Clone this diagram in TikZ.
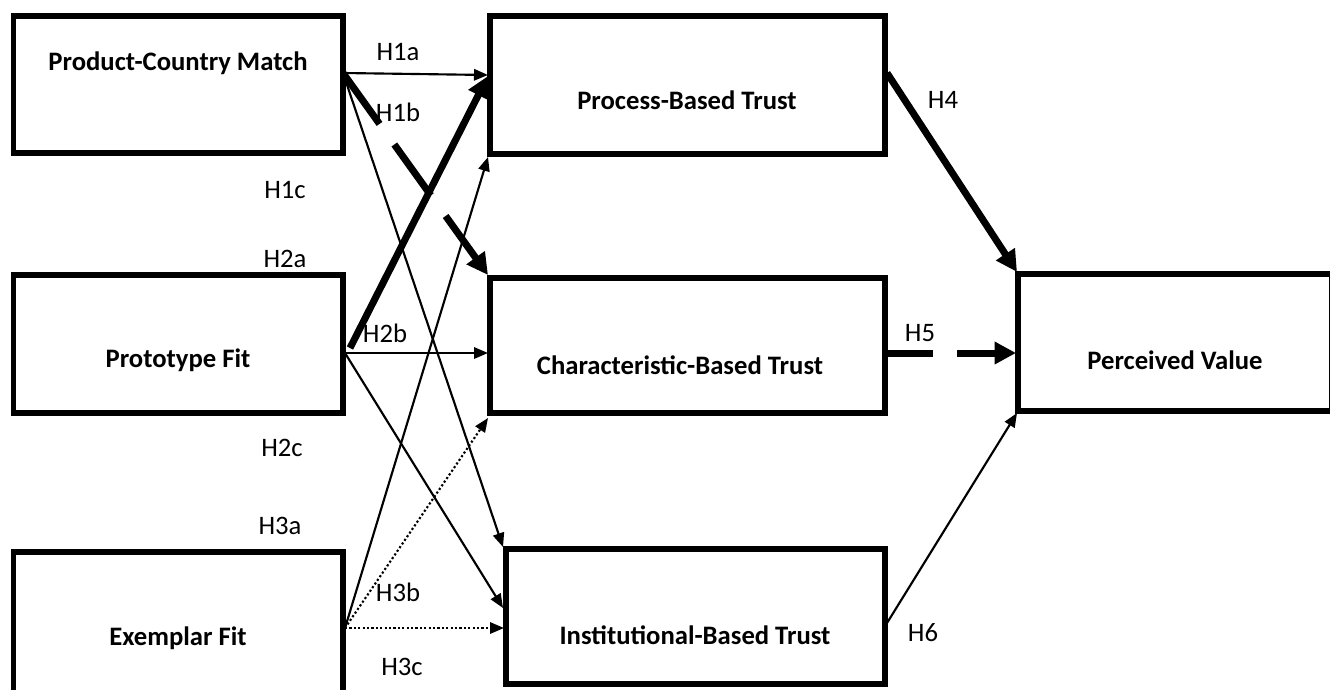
\documentclass[tikz,border=0pt]{standalone}
\usepackage{fontspec}
\setmainfont{Carlito}
\usetikzlibrary{arrows.meta,calc,fit}
\begin{document}
\begin{tikzpicture}[x=0.75pt,y=-0.75pt,
  box/.style={draw, line width=3.9pt, inner sep=0pt, outer sep=0pt, rectangle},
  boxtext/.style={font=\fontsize{20}{24}\selectfont\bfseries, inner sep=0pt},
  hlabel/.style={font=\fontsize{20}{24}\selectfont, inner sep=0pt},
  arrthin/.style={line width=1.6pt, -{Triangle[length=10.5pt,width=8.5pt]}},
  arrthick/.style={line width=5.25pt, -{Triangle[length=16pt,width=16pt]}},
  arrdot/.style={line width=1.6pt, dash pattern=on 1.6pt off 1.7pt, -{Triangle[length=10.5pt,width=8.5pt]}},
  ]
\useasboundingbox (0,0) rectangle (1330,689);
% boxes
\node[box, fit={(13.5,16) (343,153)}] (pcm) {};
\node[box, fit={(13.5,275) (343,413)}] (proto) {};
\node[box, fit={(13.5,552) (343,700)}] (exem) {};
\node[box, fit={(490,16) (885,154)}] (proc) {};
\node[box, fit={(490,278) (885,413)}] (char) {};
\node[box, fit={(506,549) (885,684)}] (inst) {};
\node[box, fit={(1018,274) (1332,411)}] (pv) {};
% box texts
\node[boxtext] (pcmt) at (178,63) {Product-Country Match};
\node[boxtext] (protot) at (178,360) {Prototype Fit};
\node[boxtext] (exemt) at (178,638) {Exemplar Fit};
\node[boxtext] (proct) at (687,100) {Process-Based Trust};
\node[boxtext] (chart) at (680,365) {Characteristic-Based Trust};
\node[boxtext] (instt) at (695,635) {Institutional-Based Trust};
\node[boxtext] (pvt) at (1175,360) {Perceived Value};
% connectors
\draw[arrthin] ($(pcm.north east)+(0,57)$) -- ($(proc.north west)+(-2,59)$);
\draw[arrthick, dash pattern=on 47pt off 19pt] ($(pcm.north east)+(0,57)$) -- ($(char.north west)+(-2,-3)$);
\draw[arrthin] ($(pcm.north east)+(0,57)$) -- ($(inst.north west)+(-3,-2)$);
\draw[arrthick] ($(proto.north east)+(7,73)$) -- ($(proc.north west)+(-2,60)$);
\draw[arrthin] ($(proto.north east)+(2,78)$) -- ($(char.north west)+(-2,75)$);
\draw[arrthin] ($(proto.north east)+(2,78)$) -- ($(inst.north west)+(-3,59)$);
\draw[arrthin] ($(exem.north east)+(2,76)$) -- ($(proc.south west)+(-2,3)$);
\draw[arrdot] ($(exem.north east)+(2,76)$) -- ($(char.south west)+(-2,5)$);
\draw[arrdot] ($(exem.north east)+(2,76)$) -- ($(inst.north west)+(-2,79)$);
\draw[arrthick] ($(proc.north east)+(2,57)$) -- ($(pv.north west)+(-1,-2)$);
\draw[arrthick, dash pattern=on 36pt off 18pt] ($(char.north east)+(0,75)$) -- ($(pv.north west)+(-2,79)$);
\draw[arrthin] ($(inst.north east)+(2,74)$) -- ($(pv.south west)+(-1,2)$);
% labels
\node[hlabel] (l1a) at (398,52) {H1a};
\node[hlabel] (l1b) at (398,112) {H1b};
\node[hlabel] (l1c) at (285,190) {H1c};
\node[hlabel] (l2a) at (285,259) {H2a};
\node[hlabel] (l2b) at (385,333) {H2b};
\node[hlabel] (l2c) at (282,448) {H2c};
\node[hlabel] (l3a) at (280,526) {H3a};
\node[hlabel] (l3b) at (398,592) {H3b};
\node[hlabel] (l3c) at (402,667) {H3c};
\node[hlabel] (l4) at (943,100) {H4};
\node[hlabel] (l5) at (920,333) {H5};
\node[hlabel] (l6) at (923,633) {H6};
\end{tikzpicture}
\end{document}
